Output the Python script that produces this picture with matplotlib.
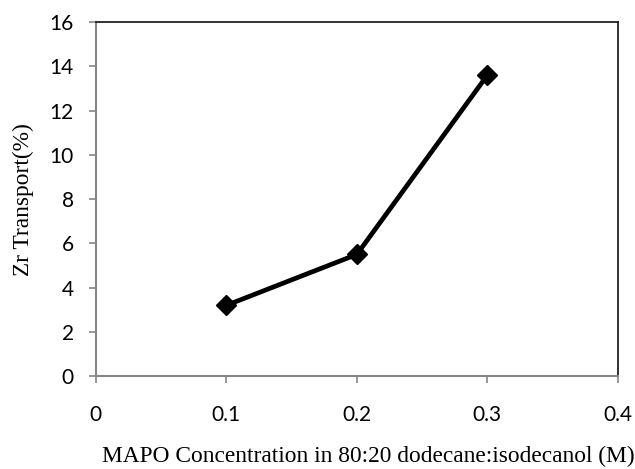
import matplotlib.pyplot as plt

conc = [0.1, 0.2, 0.3]
zr_transport = [3.2, 5.5, 13.6]
x_ticks = [0, 0.1, 0.2, 0.3, 0.4]
x_ticklabels = ['0', '0.1', '0.2', '0.3', '0.4']
y_ticks = [0, 2, 4, 6, 8, 10, 12, 14, 16]

fig = plt.figure(figsize=(6.35, 4.69), dpi=100)
ax = fig.add_axes([0.151, 0.198, 0.822, 0.755])

ax.plot(conc, zr_transport, color='black', lw=3.4, marker='D', ms=10,
        solid_joinstyle='miter')

ax.set_xlim(0, 0.4)
ax.set_ylim(0, 16)
ax.set_xticks(x_ticks)
ax.set_xticklabels(x_ticklabels)
ax.set_yticks(y_ticks)

for side in ['left', 'bottom']:
    ax.spines[side].set_color('#868686')
    ax.spines[side].set_linewidth(1.5)
for side in ['top', 'right']:
    ax.spines[side].set_color('#222222')
    ax.spines[side].set_linewidth(1.3)

ax.tick_params(axis='both', direction='out', length=5, width=1.2,
               color='#868686', labelsize=15)
ax.tick_params(axis='x', pad=16)
ax.tick_params(axis='y', pad=11)
for lab in ax.get_xticklabels() + ax.get_yticklabels():
    lab.set_fontfamily('Lato')

ax.set_ylabel('Zr Transport(%)', family='Liberation Serif', fontsize=16.8)
ax.yaxis.set_label_coords(-0.118, 0.5)
ax.set_xlabel('MAPO Concentration in 80:20 dodecane:isodecanol (M)',
              family='Liberation Serif', fontsize=16.8)
ax.xaxis.set_label_coords(0.521, -0.197)

fig.savefig('out.png', dpi=100)
